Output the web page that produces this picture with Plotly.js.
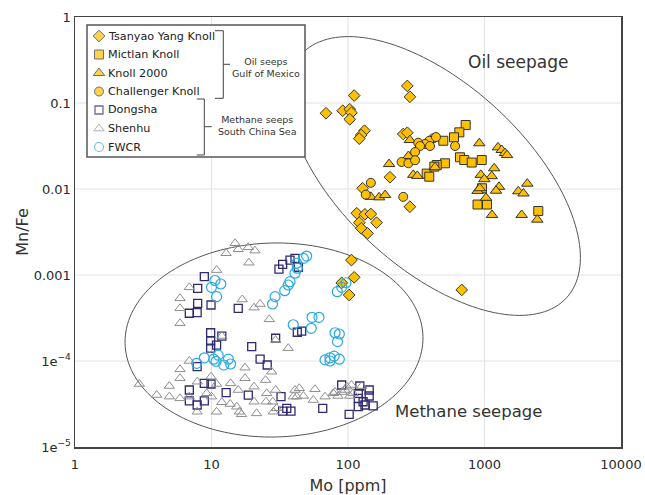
<!DOCTYPE html>
<html><head><meta charset="utf-8">
<script src="https://cdn.plot.ly/plotly-3.0.1.min.js"></script>
<style>html,body{margin:0;padding:0;background:#fff}#chart{width:645px;height:495px}</style>
</head><body><div id="chart"></div>
<script>
// ---------------- data ----------------
const tsanyaoMo   = [272,284,111,69,91.5,103,106,103,132,125,121,254,272,203,128,284,116,133,147,121,162,125,139,106,111,102,681,90];
const tsanyaoMnFe = [0.158,0.118,0.122,0.076,0.0813,0.0845,0.0771,0.0646,0.0476,0.0425,0.0385,0.0436,0.0451,0.0137,0.0102,0.00622,0.00522,0.00508,0.00512,0.00406,0.00406,0.00349,0.00305,0.00149,0.00094,0.000585,0.00067,0.00081];

const mictlanMo   = [728,654,598,499,661,711,806,954,513,447,377,394,889,1043,2478,958,429];
const mictlanMnFe = [0.0555,0.0456,0.0399,0.0364,0.0234,0.0217,0.0203,0.0217,0.0199,0.0190,0.0151,0.0139,0.0066,0.0066,0.00555,0.0102,0.0182];

const knollMo   = [916,1256,1337,1413,1462,284,277,200,434,301,322,1178,940,1129,997,889,1277,1214,1025,1769,2058,1930,1135,1873,2437,147,169,187,924];
const knollMnFe = [0.034,0.0305,0.0284,0.0262,0.0248,0.0371,0.0242,0.0195,0.0179,0.0146,0.0142,0.0174,0.0146,0.0141,0.0130,0.0095,0.0106,0.00955,0.0079,0.0094,0.01153,0.00887,0.00499,0.00499,0.0044,0.0081,0.008,0.0085,0.0102];

const challengerMo   = [422,394,366,399,327,337,609,310,247,277,310,147,135,254,441];
const challengerMnFe = [0.0389,0.0364,0.0334,0.0316,0.0345,0.0316,0.0316,0.0269,0.0206,0.0199,0.0216,0.0118,0.0086,0.0081,0.0402];

const dongshaMo   = [8.86,7.92,7.92,9.92,6.88,7.85,15.7,9.86,9.86,9.86,10.9,11.9,19.7,22.7,25.6,29.5,42.5,45.8,7.85,31.2,33.2,37.6,40.9,43.3,8.86,9.92,6.88,6.88,7.85,8.86,12.8,18.6,32.3,33.2,35.6,38.2,65.3,89.9,122,143,119,143,129,119,119,133,153,102];
const dongshaMnFe = [9.55e-4,7.0e-4,4.69e-4,4.48e-4,3.59e-4,3.65e-4,4.10e-4,2.13e-4,1.71e-4,1.41e-4,1.53e-4,1.95e-4,1.47e-4,1.05e-4,8.98e-5,1.84e-4,2.16e-4,2.23e-4,8.59e-5,1.17e-3,1.33e-3,1.49e-3,1.56e-3,1.23e-3,5.5e-5,5.4e-5,4.6e-5,3.43e-5,3.08e-5,3.43e-5,4.28e-5,4.02e-5,3.85e-5,2.62e-5,2.82e-5,2.62e-5,2.82e-5,5.26e-5,5.12e-5,4.6e-5,4.21e-5,3.92e-5,3.36e-5,3.68e-5,2.94e-5,3.08e-5,3.0e-5,2.4e-5];

const shenhuMo   = [14.9,12.8,15.7,18.6,20.8,18.8,10.9,6.88,5.88,5.88,5.88,16.8,20.5,22.7,26.5,11.9,29.5,36.5,6.88,5.88,5.88,17.6,27.6,2.96,4.91,3.97,4.91,5.88,6.88,7.87,9.92,10.9,13.8,17.6,20.5,15.7,24.9,29.5,25.4,28.1,20.5,11.9,13.7,15.3,16.0,16.6,21.4,30.0,44.0,42.1,47.1,57.3,67.9,55.7,78.0,84.5,90.4,95.1,103,109,126,10.9,9.22,10.0,7.85,25.1,28.4,98,106,80.3,40.9,39.7];
const shenhuMnFe = [2.34e-3,1.79e-3,1.99e-3,2.10e-3,1.92e-3,1.39e-3,1.14e-3,7.19e-4,5.36e-4,4.10e-4,2.74e-4,5.19e-4,4.17e-4,4.6e-4,3.05e-4,1.95e-4,1.75e-4,1.41e-4,1.0e-4,8.0e-5,6.3e-5,8.36e-5,7.5e-5,5.4e-5,5.12e-5,4.02e-5,3.85e-5,3.68e-5,3.85e-5,5.74e-5,6.57e-5,5.4e-5,5.5e-5,6.3e-5,5.03e-5,4.6e-5,6.0e-5,4.6e-5,4.21e-5,3.36e-5,3.36e-5,3.31e-5,3.16e-5,2.94e-5,2.57e-5,2.40e-5,2.46e-5,2.82e-5,4.82e-5,3.85e-5,3.92e-5,4.69e-5,3.85e-5,3.52e-5,4.21e-5,3.92e-5,4.35e-5,4.6e-5,3.92e-5,4.21e-5,5.12e-5,2.57e-5,4.21e-5,3.85e-5,2.57e-5,3.36e-5,2.57e-5,5.03e-5,5.26e-5,4.35e-5,4.6e-5,3.85e-5];

const fwcrMo   = [49.8,47.1,42.1,42.5,40.9,37.6,36.5,34.4,29.2,28.0,10.6,11.7,10.0,10.9,54.5,61.3,39.7,53.8,80.3,86.4,83.8,67.9,73.8,79.2,86.4,73.8,96.7,89.9,83.5,7.79,8.86,10.4,11.2,10.8,12.3,13.3,13.8];
const fwcrMnFe = [1.66e-3,1.56e-3,1.37e-3,1.20e-3,1.05e-3,8.36e-4,7.65e-4,6.57e-4,5.6e-4,4.6e-4,8.63e-4,7.86e-4,7.19e-4,5.6e-4,3.22e-4,3.22e-4,2.64e-4,2.40e-4,2.13e-4,2.06e-4,1.68e-4,1.03e-4,1.09e-4,1.14e-4,1.05e-4,1.0e-4,8.13e-4,7.19e-4,6.4e-4,9.4e-5,1.09e-4,1.05e-4,1.17e-4,9.9e-5,8.98e-5,1.05e-4,9.23e-5];

const xTickVals = [1,10,100,1000,10000];
const xTickText = ['1','10','100','1000','10000'];
const yTickVals = [1e-5,1e-4,1e-3,1e-2,1e-1,1];
const yTickText = ['1e<sup>−5</sup>','1e<sup>−4</sup>','0.001','0.01','0.1','1'];

const legendLabels = ['Tsanyao Yang Knoll','Mictlan Knoll','Knoll 2000','Challenger Knoll','Dongsha','Shenhu','FWCR'];

// ---------------- styles / geometry ----------------
const FONT = 'DejaVu Sans, Verdana, sans-serif';
const W=645, H=495, L=75, R=621, T=17, B=447;
const XR=[0,4], YR=[-5,0];
const GOLD='#FFC000', EDGE='#333333';
const NAVY='#2e2a72', GREY='#8e8e8e', BLUE='#29a9e1';

function dx(px){return (px-L)/(R-L);}
function dy(py){return (B-py)/(B-T);}
function dataX(px){return Math.pow(10, XR[0]+dx(px)*(XR[1]-XR[0]));}
function dataY(py){return Math.pow(10, YR[0]+dy(py)*(YR[1]-YR[0]));}
function ellipse(cx,cy,a,b,deg){
  const th=deg*Math.PI/180; let s='';
  for(let i=0;i<160;i++){
    const t=2*Math.PI*i/160;
    const px=cx+a*Math.cos(t)*Math.cos(th)-b*Math.sin(t)*Math.sin(th);
    const py=cy+a*Math.cos(t)*Math.sin(th)+b*Math.sin(t)*Math.cos(th);
    s+=(i?' L':'M')+dx(px).toFixed(5)+','+dy(py).toFixed(5);
  }
  return s+' Z';
}
function pline(pts){return pts.map((p,i)=>(i?' L':'M')+dx(p[0]).toFixed(5)+','+dy(p[1]).toFixed(5)).join('');}

const oilStyle = (sym,size)=>({symbol:sym,size:size,color:GOLD,line:{color:EDGE,width:1}});

const traces = [
  {x:tsanyaoMo,y:tsanyaoMnFe,name:legendLabels[0],mode:'markers',marker:oilStyle('diamond',9)},
  {x:mictlanMo,y:mictlanMnFe,name:legendLabels[1],mode:'markers',marker:oilStyle('square',9)},
  {x:knollMo,y:knollMnFe,name:legendLabels[2],mode:'markers',marker:oilStyle('triangle-up',10)},
  {x:challengerMo,y:challengerMnFe,name:legendLabels[3],mode:'markers',marker:oilStyle('circle',9)},
  {x:dongshaMo,y:dongshaMnFe,name:legendLabels[4],mode:'markers',marker:{symbol:'square-open',size:8,color:NAVY,line:{width:1.3}}},
  {x:shenhuMo,y:shenhuMnFe,name:legendLabels[5],mode:'markers',marker:{symbol:'triangle-up-open',size:9,color:GREY,line:{width:1}}},
  {x:fwcrMo,y:fwcrMnFe,name:legendLabels[6],mode:'markers',marker:{symbol:'circle-open',size:10,color:BLUE,line:{width:1.2}}}
];

// custom legend keys
const legY = [36,54.5,73,91.5,110,128.5,147];
const legX = 99;
const legSym = ['diamond','square','triangle-up','circle','square-open','triangle-up-open','circle-open'];
const legCol = [GOLD,GOLD,GOLD,GOLD,NAVY,GREY,BLUE];
const legLine = [EDGE,EDGE,EDGE,EDGE,NAVY,GREY,BLUE];
const legSize = [9,9,10,9,8,9,9];
traces.push({
  x:legY.map(()=>dataX(legX)), y:legY.map(v=>dataY(v)), mode:'markers', showlegend:false, hoverinfo:'skip',
  marker:{symbol:legSym,color:legCol,size:legSize,line:{color:legLine,width:[1,1,1,1,1.3,1,1.2]}}
});

// grid lines drawn as shapes so that the legend box can cover them
const shapes = [];
for(let k=1;k<4;k++) shapes.push({type:'line',xref:'paper',yref:'paper',layer:'below',x0:k/4,x1:k/4,y0:0,y1:1,line:{color:'#e2e2e2',width:1}});
for(let k=1;k<5;k++) shapes.push({type:'line',xref:'paper',yref:'paper',layer:'below',x0:0,x1:1,y0:k/5,y1:k/5,line:{color:'#e2e2e2',width:1}});
shapes.push(
  {type:'path',xref:'paper',yref:'paper',layer:'below',path:ellipse(434,176,180,92,42.6),line:{color:'#555',width:1}},
  {type:'path',xref:'paper',yref:'paper',layer:'below',path:ellipse(274,340,149,97,-1.3),line:{color:'#555',width:1}},
  {type:'rect',xref:'paper',yref:'paper',layer:'below',x0:dx(87),x1:dx(305),y0:dy(157),y1:dy(25),fillcolor:'#ffffff',line:{color:'#555',width:1.5}},
  {type:'path',xref:'paper',yref:'paper',layer:'below',path:pline([[215,30.7],[223.3,30.7],[223.3,98.3],[215,98.3]]),line:{color:'#444',width:1}},
  {type:'line',xref:'paper',yref:'paper',layer:'below',x0:dx(223.3),x1:dx(230),y0:dy(64.3),y1:dy(64.3),line:{color:'#444',width:1}},
  {type:'path',xref:'paper',yref:'paper',layer:'below',path:pline([[196.7,99],[204.3,99],[204.3,155],[196.7,155]]),line:{color:'#444',width:1}},
  {type:'line',xref:'paper',yref:'paper',layer:'below',x0:dx(204.3),x1:dx(211.7),y0:dy(126.7),y1:dy(126.7),line:{color:'#444',width:1}}
);

const annotations = legendLabels.map((t,i)=>({
  text:t,xref:'paper',yref:'paper',x:dx(106),y:dy(legY[i]),xanchor:'left',yanchor:'middle',showarrow:false,
  font:{family:FONT,size:11.2,color:'#222'}
}));
annotations.push(
  {text:'Oil seeps<br>Gulf of Mexico',xref:'paper',yref:'paper',x:dx(265.5),y:dy(67),xanchor:'center',yanchor:'middle',showarrow:false,font:{family:FONT,size:9.5,color:'#333'}},
  {text:'Methane seeps<br>South China Sea',xref:'paper',yref:'paper',x:dx(257),y:dy(125),xanchor:'center',yanchor:'middle',showarrow:false,font:{family:FONT,size:9.5,color:'#333'}},
  {text:'Oil seepage',xref:'paper',yref:'paper',x:dx(518),y:dy(62),xanchor:'center',yanchor:'middle',showarrow:false,font:{family:FONT,size:17,color:'#333'}},
  {text:'Methane seepage',xref:'paper',yref:'paper',x:dx(468),y:dy(411.7),xanchor:'center',yanchor:'middle',showarrow:false,font:{family:FONT,size:16.5,color:'#333'}}
);

const axisCommon = {type:'log',showgrid:false,zeroline:false,showline:true,mirror:true,
  linecolor:'#444',linewidth:1.5,ticks:'',tickfont:{family:FONT,size:13,color:'#2a2a2a'},fixedrange:true};

const layout = {
  width:W,height:H,margin:{l:L,r:W-R,t:T,b:H-B},
  paper_bgcolor:'#fff',plot_bgcolor:'rgba(0,0,0,0)',showlegend:false,
  font:{family:FONT,color:'#333'},
  xaxis:Object.assign({},axisCommon,{range:XR,tickmode:'array',tickvals:xTickVals,ticktext:xTickText,ticklabelstandoff:5,
    title:{text:'Mo [ppm]',font:{family:FONT,size:16,color:'#333'},standoff:11}}),
  yaxis:Object.assign({},axisCommon,{range:YR,tickmode:'array',tickvals:yTickVals,ticktext:yTickText,
    title:{text:'Mn/Fe',font:{family:FONT,size:16,color:'#333'},standoff:1}}),
  shapes:shapes,annotations:annotations
};

Plotly.newPlot('chart',traces,layout,{displayModeBar:false,staticPlot:true});
</script></body></html>
